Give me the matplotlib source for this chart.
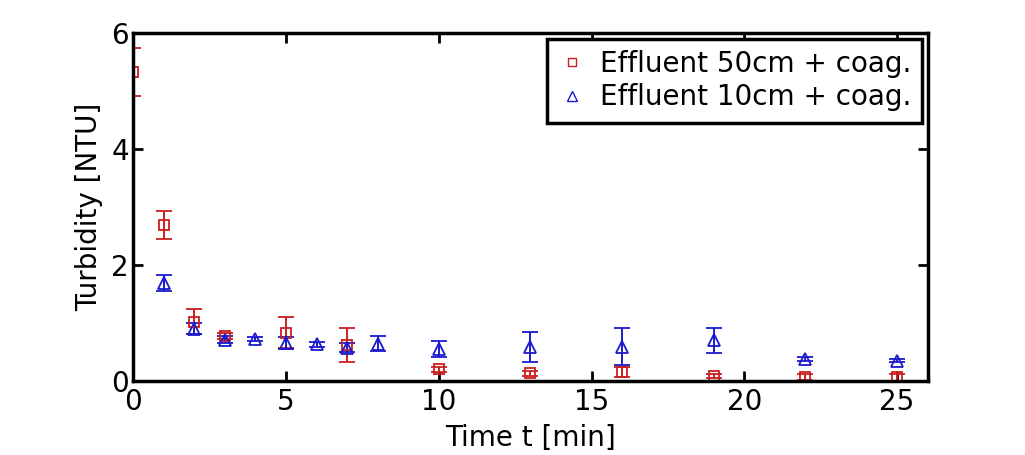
import matplotlib
matplotlib.use("Agg")
import matplotlib.pyplot as plt
from matplotlib.lines import Line2D

plt.rcParams['font.family'] = ['DejaVu Sans']

# effluent 50cm + coag.
t50 = [0, 1, 2, 3, 5, 7, 10, 13, 16, 19, 22, 25]
turb50 = [5.33, 2.69, 1.02, 0.78, 0.83, 0.62, 0.20, 0.13, 0.15, 0.08, 0.07, 0.06]
err50 = [0.42, 0.25, 0.22, 0.05, 0.27, 0.30, 0.04, 0.04, 0.09, 0.03, 0.05, 0.06]

# effluent 10cm + coag.
t10 = [1, 2, 3, 4, 5, 6, 7, 8, 10, 13, 16, 19, 22, 25]
turb10 = [1.69, 0.90, 0.71, 0.72, 0.65, 0.63, 0.57, 0.64, 0.55, 0.59, 0.59, 0.70, 0.38, 0.35]
err10 = [0.14, 0.10, 0.06, 0.03, 0.10, 0.04, 0.08, 0.13, 0.13, 0.26, 0.32, 0.22, 0.03, 0.03]

red = '#cc1f1f'
blue = '#1a1acc'

fig = plt.figure(figsize=(10.25, 4.55), dpi=100)
ax = fig.add_axes([0.13, 0.163, 0.775, 0.764])

ax.errorbar(t50, turb50, yerr=err50, fmt='s', color=red, mfc='none',
            markersize=7, mew=1.3, capsize=6, elinewidth=1.4, capthick=1.4)
ax.errorbar(t10, turb10, yerr=err10, fmt='^', color=blue, mfc='none',
            markersize=8, mew=1.3, capsize=6, elinewidth=1.4, capthick=1.4)

ax.set_xlim(0, 26)
ax.set_ylim(0, 6)
ax.set_xticks([0, 5, 10, 15, 20, 25])
ax.set_yticks([0, 2, 4, 6])
ax.set_xlabel('Time t [min]', fontsize=20, labelpad=6)
ax.set_ylabel('Turbidity [NTU]', fontsize=20, labelpad=6)
ax.tick_params(direction='in', length=7, width=2, labelsize=20,
               top=True, right=True)
ax.tick_params(axis='x', pad=5)
ax.tick_params(axis='y', pad=3)
for s in ax.spines.values():
    s.set_linewidth(2.5)

handles = [Line2D([], [], ls='none', marker='s', mfc='none', color=red, markersize=6),
           Line2D([], [], ls='none', marker='^', mfc='none', color=blue, markersize=7)]
leg = ax.legend(handles, ['Effluent 50cm + coag.', 'Effluent 10cm + coag.'],
                loc='upper right', fontsize=20, fancybox=False, framealpha=1,
                edgecolor='black', borderaxespad=0.2, handlelength=1.0,
                handletextpad=0.5, borderpad=0.4, labelspacing=0.2)
leg.get_frame().set_linewidth(2.5)

fig.savefig('out.png', dpi=100)
